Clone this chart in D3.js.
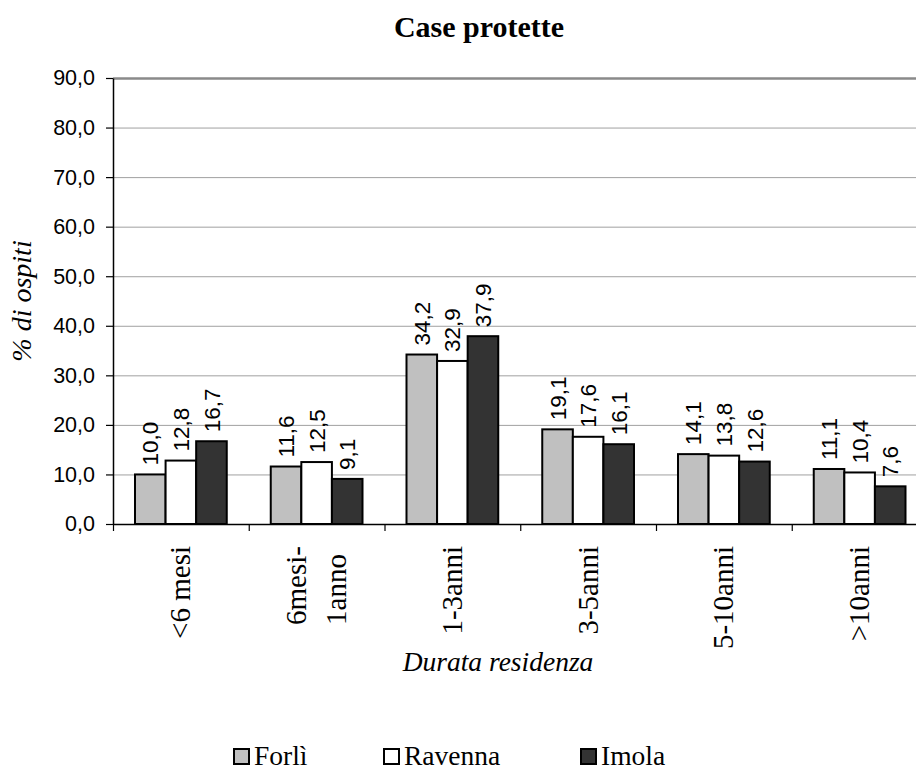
<!DOCTYPE html>
<html>
<head>
<meta charset="utf-8">
<script src="https://cdn.jsdelivr.net/npm/d3@7"></script>
<style>
html,body{margin:0;padding:0;background:#fff;}
svg{display:block;}
</style>
</head>
<body>
<div id="chart"></div>
<script>
// ---- data ----
const title = "Case protette";
const categories = ["<6 mesi", "6mesi-|1anno", "1-3anni", "3-5anni", "5-10anni", ">10anni"];
const seriesNames = ["Forlì", "Ravenna", "Imola"];
const forli   = [10.0, 11.6, 34.2, 19.1, 14.1, 11.1];
const ravenna = [12.8, 12.5, 32.9, 17.6, 13.8, 10.4];
const imola   = [16.7, 9.1, 37.9, 16.1, 12.6, 7.6];
const yTicks = [0, 10, 20, 30, 40, 50, 60, 70, 80, 90];
const yTitle = "% di ospiti";
const xTitle = "Durata residenza";
const seriesColors = ["#c0c0c0", "#ffffff", "#333333"];

const seriesValues = [forli, ravenna, imola];

(function () {
const W = 916, H = 772;
const pLeft = 113, pTop = 78, pBottom = 524;
const catW = 135.75;
const pRight = pLeft + categories.length * catW;

const svg = d3.select("#chart").append("svg").attr("width", W).attr("height", H);

const y = d3.scaleLinear().domain([0, 90]).range([pBottom, pTop]);
const x0 = d3.scaleBand().domain(categories).range([pLeft, pRight]).paddingInner(0).paddingOuter(0);
const x1 = d3.scaleBand().domain(seriesNames).range([22, catW - 22]).padding(0);
const xb = d3.scaleLinear().domain([0, categories.length]).range([pLeft, pRight]);

const sans = "'Liberation Sans', Arial, sans-serif";
const serif = "'Liberation Serif', 'Times New Roman', serif";

// gridlines
const grid = svg.append("g").attr("transform", `translate(${pLeft},0)`)
  .call(d3.axisLeft(y).tickValues(yTicks.filter(d => d > 0)).tickSize(-(pRight - pLeft)).tickFormat(""));
grid.select(".domain").remove();
grid.selectAll(".tick line").attr("stroke", "#a0a0a0").attr("stroke-width", 1);
grid.selectAll(".tick").filter(d => d === 90).select("line").attr("stroke", "#8a8a8a").attr("stroke-width", 2.5);

// bars
const groups = svg.append("g").selectAll("g").data(categories).join("g")
  .attr("transform", d => `translate(${x0(d)},0)`);
groups.selectAll("rect").data((c, i) => seriesNames.map((s, j) => ({ s, j, v: seriesValues[j][i] })))
  .join("rect")
  .attr("x", d => x1(d.s))
  .attr("y", d => y(d.v))
  .attr("width", x1.bandwidth())
  .attr("height", d => y(0) - y(d.v))
  .attr("fill", d => seriesColors[d.j])
  .attr("stroke", "#000")
  .attr("stroke-width", 2);

// data labels
groups.selectAll("text.val").data((c, i) => seriesNames.map((s, j) => ({ s, j, v: seriesValues[j][i] })))
  .join("text").attr("class", "val")
  .attr("transform", d => `translate(${x1(d.s) + x1.bandwidth() / 2},${y(d.v) - 9}) rotate(-90)`)
  .attr("dy", "0.36em")
  .attr("text-anchor", "start")
  .attr("font-family", sans)
  .attr("font-size", 22.5)
  .attr("fill", "#000")
  .text(d => d.v.toFixed(1).replace(".", ","));

// y axis
const yAxis = svg.append("g").attr("transform", `translate(${pLeft},0)`)
  .call(d3.axisLeft(y).tickValues(yTicks).tickSize(7).tickSizeOuter(0).tickPadding(11)
    .tickFormat(d => d.toFixed(1).replace(".", ",")));
yAxis.select(".domain").attr("stroke", "#000").attr("stroke-width", 1.5);
yAxis.selectAll(".tick line").attr("stroke", "#000").attr("stroke-width", 1.2);
yAxis.selectAll(".tick text")
  .attr("font-family", sans)
  .attr("font-size", 21.5).attr("fill", "#000");

// x axis (ticks at category boundaries)
const xAxis = svg.append("g").attr("transform", `translate(0,${pBottom})`)
  .call(d3.axisBottom(xb).tickValues(d3.range(categories.length + 1)).tickSize(7).tickSizeOuter(0).tickFormat(""));
xAxis.select(".domain").attr("stroke", "#000").attr("stroke-width", 1.5);
xAxis.selectAll(".tick line").attr("stroke", "#000").attr("stroke-width", 1.2);

// category labels (rotated)
categories.forEach(c => {
  const lines = c.split("|");
  const cx = x0(c) + catW / 2;
  const g = svg.append("g");
  const n = lines.length;
  const texts = lines.map((ln, k) => {
    const off = (k - (n - 1) / 2) * 40;
    return g.append("text")
      .attr("font-family", serif).attr("font-size", 29).attr("fill", "#000")
      .attr("data-off", off)
      .text(ln);
  });
  const maxL = d3.max(texts, t => t.node().getComputedTextLength());
  texts.forEach(t => {
    const off = +t.attr("data-off");
    const px = cx + off + 0.33 * 29;
    if (n === 1) {
      t.attr("text-anchor", "end").attr("transform", `translate(${px},546) rotate(-90)`);
    } else {
      t.attr("text-anchor", "start").attr("transform", `translate(${px},${546 + maxL}) rotate(-90)`);
    }
  });
});

// axis titles
svg.append("text")
  .attr("x", 498).attr("y", 671)
  .attr("text-anchor", "middle")
  .attr("font-family", serif).attr("font-style", "italic").attr("font-size", 27.5)
  .text(xTitle);
svg.append("text")
  .attr("transform", `translate(31,${(pTop + pBottom) / 2}) rotate(-90)`)
  .attr("text-anchor", "middle")
  .attr("font-family", serif).attr("font-style", "italic").attr("font-size", 28)
  .text(yTitle);

// title
svg.append("text")
  .attr("x", 479).attr("y", 37)
  .attr("text-anchor", "middle")
  .attr("font-family", serif).attr("font-weight", "bold").attr("font-size", 30)
  .text(title);

// legend
const legX = [233, 383, 580];
const leg = svg.append("g").selectAll("g").data(seriesNames).join("g")
  .attr("transform", (d, i) => `translate(${legX[i]},748)`);
leg.append("rect").attr("x", 1).attr("y", 1).attr("width", 15).attr("height", 15)
  .attr("fill", (d, i) => seriesColors[i]).attr("stroke", "#000").attr("stroke-width", 2);
leg.append("text").attr("x", 21).attr("y", 17)
  .attr("font-family", serif).attr("font-size", 27.5).attr("fill", "#000")
  .text(d => d);
})();
</script>
</body>
</html>
